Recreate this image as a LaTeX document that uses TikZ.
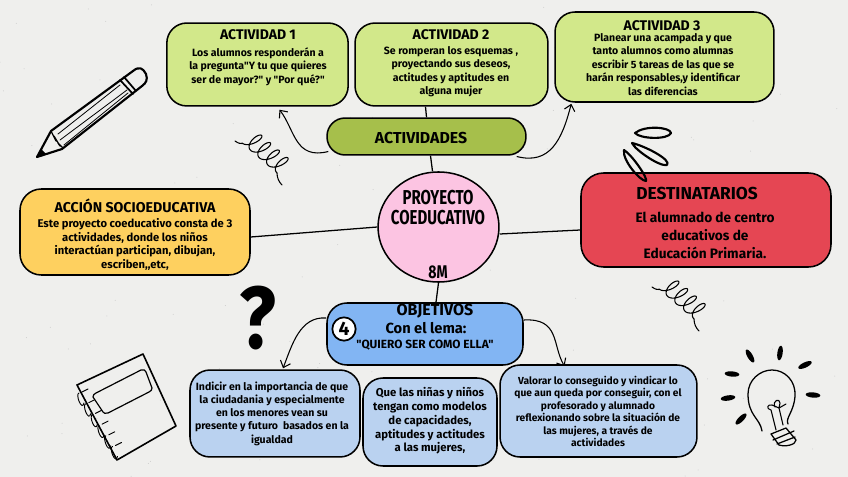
\documentclass[tikz,border=0pt]{standalone}
\usepackage{fontspec}
\usepackage{graphicx}
\setmainfont[Ligatures=TeXOff]{Fira Sans}
\usetikzlibrary{arrows.meta,shapes.geometric,calc}
\pgfdeclarelayer{under}
\pgfsetlayers{under,main}
\definecolor{paper}{HTML}{EFEFED}
\definecolor{lime}{HTML}{D2E88A}
\definecolor{olive}{HTML}{A6BF4B}
\definecolor{pinkc}{HTML}{FCC4E2}
\definecolor{redc}{HTML}{E54653}
\definecolor{amber}{HTML}{FED05F}
\definecolor{bluea}{HTML}{82B5F3}
\definecolor{blueb}{HTML}{BAD2F0}
\tikzset{
 x=0.75pt,y=-0.75pt,
 boxbase/.style={draw=black,line width=1.15pt,rounded corners=15pt,inner sep=0pt},
 limebox/.style={boxbase,fill=lime},
 bluebox/.style={boxbase,fill=blueb},
 body/.style={align=center,inner sep=0pt,font=\fontsize{7.9}{10.1}\selectfont\bfseries},
 ttl/.style={inner sep=0pt,font=\fontsize{10.5}{11}\selectfont\bfseries},
 link/.style={line width=0.95pt,draw=black},
 curve/.style={line width=0.8pt,draw=black,-{Straight Barb[length=4.5pt,width=8pt,line width=0.8pt]}},
 ink/.style={line width=0.95pt,draw=black,line join=round,line cap=round},
 inkb/.style={line width=1.6pt,draw=black,line join=round,line cap=round},
 coil/.style={line width=0.8pt,draw=black,line cap=round},
}
\begin{document}
\begin{tikzpicture}
\useasboundingbox (0,0) rectangle (848,477);
\begin{pgfonlayer}{under}
\fill[paper] (0,0) rectangle (848,477);
\pgfmathsetseed{7}
\foreach \i in {1,...,120}{
  \pgfmathsetmacro{\px}{rnd*848}\pgfmathsetmacro{\py}{rnd*477}
  \fill[black!20] (\px,\py) circle[radius=0.5];
}
\end{pgfonlayer}
% boxes
\node[limebox,minimum width=136pt,minimum height=62.2pt] (a1) at (257.5,64.5) {};
\node[limebox,minimum width=144.7pt,minimum height=62.2pt] (a2) at (451.5,64.5) {};
\node[limebox,minimum width=164.2pt,minimum height=67.5pt] (a3) at (664.5,57) {};
\node[boxbase,fill=olive,rounded corners=13.5pt,minimum width=149.2pt,minimum height=27.7pt] (act) at (426.5,136.5) {};
\node[draw=black,line width=1.15pt,ellipse,fill=pinkc,minimum width=90.7pt,minimum height=82.5pt,inner sep=0pt] (circ) at (438.5,227) {};
\node[boxbase,fill=redc,rounded corners=17pt,minimum width=187.5pt,minimum height=70.5pt] (dest) at (706,220) {};
\node[boxbase,fill=amber,rounded corners=16pt,minimum width=172.5pt,minimum height=64.5pt] (acc) at (135,232) {};
\node[boxbase,fill=bluea,rounded corners=15pt,minimum width=147pt,minimum height=46.5pt] (obj) at (425,334) {};
\node[bluebox,minimum width=127.5pt,minimum height=65.2pt] (b1) at (275,413.5) {};
\node[bluebox,minimum width=100.5pt,minimum height=66pt] (b2) at (430,422) {};
\node[bluebox,minimum width=147.7pt,minimum height=69pt] (b3) at (598.5,411) {};
\begin{pgfonlayer}{under}
\draw[link] ($(acc.east)+(0,5)$) -- (circ.west);
\draw[link] ($(circ.east)+(0,7)$) -- ($(dest.west)+(0,10)$);
\draw[link] ($(act.south)+(4,0)$) -- ($(circ.north)+(-6,0)$);
\draw[link] ($(a2.south)+(-26,0)$) -- (act.north);
\draw[link] (circ.south) -- ($(obj.north)+(11,0)$);
\draw[curve] ($(act.west)+(2,15)$) .. controls (295,160) and (295,130) .. ($(a1.south)+(22,3)$);
\draw[curve] ($(act.east)+(-10,20)$) .. controls (550,165) and (562,140) .. ($(a3.south west)+(17,1)$);
\draw[curve] ($(obj.west)+(0,-16)$) .. controls (300,316) and (292,345) .. ($(b1.north)+(8,-1)$);
\draw[curve] ($(obj.east)+(0,-14)$) .. controls (560,318) and (552,345) .. ($(b3.north)+(-34,2)$);
\end{pgfonlayer}
% titles
\node[ttl] (t1) at (258,35) {ACTIVIDAD 1};
\node[ttl] (t2) at (451,35) {ACTIVIDAD 2};
\node[ttl] (t3) at (662,26) {ACTIVIDAD 3};
\node[ttl,font=\fontsize{11.9}{12}\selectfont\bfseries] (tact) at (421,138.5) {ACTIVIDADES};
\node[ttl,font=\fontsize{11.6}{10.4}\selectfont\bfseries] (tc) at (438,210) {\scalebox{0.97}[1.3]{\begin{tabular}{@{}c@{}}PROYECTO\\COEDUCATIVO\end{tabular}}};
\node[ttl,font=\fontsize{10.6}{11}\selectfont\bfseries] (t8) at (438,272.5) {\scalebox{1}[1.3]{8M}};
\node[ttl,font=\fontsize{13}{14}\selectfont\bfseries] (td) at (697,193) {DESTINATARIOS};
\node[ttl,font=\fontsize{10.65}{11}\selectfont\bfseries] (ta) at (135,206) {ACCIÓN SOCIOEDUCATIVA};
\node[ttl,font=\fontsize{12}{13}\selectfont\bfseries] (to) at (435,311) {OBJETIVOS};
\node[ttl,font=\fontsize{11}{12}\selectfont\bfseries] (tl) at (426,328) {Con el lema:};
\node[body,font=\fontsize{8.9}{10}\selectfont\bfseries] (tq) at (425,345) {"QUIERO SER COMO ELLA"};
% bodies
\node[body] (x1) at (258,66.5) {Los alumnos responderán a\\la pregunta"Y tu que quieres\\ser de mayor?" y "Por qué?"};
\node[body] (x2) at (451,71.5) {Se romperan los esquemas ,\\proyectando sus deseos,\\actitudes y aptitudes en\\alguna mujer};
\node[body] (x3) at (663,64.5) {Planear una acampada y que\\tanto alumnos como alumnas\\escribir 5 tareas de las que se\\harán responsables,y identificar\\las diferencias};
\node[body,font=\fontsize{10.25}{13.5}\selectfont\bfseries] (x4) at (705,235) {El alumnado de centro\\educativos de\\Educación Primaria.};
\node[body,font=\fontsize{8.4}{10.3}\selectfont\bfseries] (x5) at (135,244.5) {Este proyecto coeducativo consta de 3\\actividades, donde los niños\\interactúan participan, dibujan,\\escriben,,etc,};
\node[body,font=\fontsize{7.9}{9.9}\selectfont\bfseries] (x6) at (272,413.5) {Indicir en la importancia de que\\la ciudadania y especialmente\\en los menores vean su\\presente y futuro\ \ basados en la\\igualdad};
\node[body,font=\fontsize{8.5}{10.3}\selectfont\bfseries] (x7) at (430,421) {Que las niñas y niños\\tengan como modelos\\de capacidades,\\aptitudes y actitudes\\a las mujeres,};
\node[body,font=\fontsize{7.66}{9.4}\selectfont\bfseries] (x8) at (598,411.5) {Valorar lo conseguido y vindicar lo\\que aun queda por conseguir, con el\\profesorado y alumnado\\reflexionando sobre la situación de\\las mujeres, a través de\\actividades};
% number badge
\node[circle,draw=black,fill=white,line width=1.3pt,minimum size=17.5pt,inner sep=0pt,font=\fontsize{14.5}{15}\selectfont\bfseries] (n4) at (344,329) {4};
% coils
\foreach \ox/\oy in {0/0,417/146}{
\begin{scope}[shift={(\ox,\oy)}]
\draw[coil,smooth] plot[domain=180:1620,samples=140,variable=\t]
 ({267.1+0.76*(0.032*(\t-900)-5*sin(\t))+0.8*9.5*cos(\t)},
  {152.3+0.65*(0.032*(\t-900)-5*sin(\t))-0.6*9.5*cos(\t)});
\draw[coil] (235,141) .. controls (238,143) and (240,144) .. (242,143.5);
\draw[coil] (277,173) .. controls (277,178) and (279,182) .. (282,185);
\end{scope}
}
% pencil
\draw[inkb,fill=paper] (37,157) -- (51,131) -- (133,71) .. controls (139,66) and (143,68) .. (146,74) .. controls (148,80) and (146,83) .. (142,86) -- (62,149) -- cycle;
\fill (37,157) -- (41,149) -- (46,154) -- cycle;
\draw[ink] (51,131) -- (56,141) -- (54,136) -- (60,146) -- (58,143) -- (63,148);
\draw[inkb,line width=1.3pt] (120,80) -- (133,94) (124,77) -- (136,91);
\draw[ink,line width=0.6pt] (58,134) -- (120,85) (60,140) -- (127,90) (64,145) -- (128,93);
% notebook
\draw[inkb,line width=1.2pt] (77,385) -- (143,354) -- (176,426) -- (117,460) -- cycle;
\draw[ink,line width=0.9pt] (96,393) -- (141,370) .. controls (144,369) and (145,370) .. (146,372) -- (152,388) .. controls (152,390) and (151,391) .. (149,392) -- (108,413) .. controls (105,414) and (104,413) .. (103,412) -- (93,397) .. controls (93,395) and (94,394) .. (96,393) -- cycle;
\foreach \s in {0,1,2,3,4,5}{
 \draw[ink,line width=0.7pt] ($(79,393)+(\s*6.7,\s*10.7)$) .. controls +(-4,1) and +(-2,9) .. +(5,10) +(3,-1) -- +(9,-4);
}
% question mark
\node[inner sep=0pt,font=\fontsize{66}{66}\selectfont\bfseries] (q) at (258,318) {\scalebox{0.87}[1.0]{?}};
% bulb
\draw[ink] (762,431) .. controls (760,418) and (748,416) .. (748,394) .. controls (748,380) and (760,370) .. (772,370) .. controls (785,370) and (796,381) .. (795,396) .. controls (794,412) and (785,418) .. (788,424);
\draw[ink] (771,434) -- (786,428) -- (796,440) .. controls (796,445) and (785,447) .. (779,445) -- cycle (773,440) -- (794,431) (777,444) -- (795,437);
\draw[ink,line width=0.8pt] (776,430) -- (771,410) .. controls (766,409) and (767,404) .. (772,405) -- (779,408) -- (786,404) (783,425) -- (779,408) (775,407) .. controls (772,400) and (780,398) .. (780,403) -- (779,408);
\foreach \cx/\cy/\a in {750/356/-60,780/353/82,805/365/25,813/395/-5,732/374/-5,728/398/8,741/419/45}{
 \fill[rotate around={\a:(\cx,\cy)}] (\cx,\cy) ellipse[x radius=5.5pt,y radius=2pt];
}
% petals
\draw[inkb] (635,133) .. controls (645,125) and (670,127) .. (671,133) .. controls (668,140) and (640,139) .. (635,133) -- cycle;
\draw[inkb] (632,143) .. controls (645,146) and (672,160) .. (667,165) .. controls (660,167) and (635,150) .. (632,143) -- cycle;
\draw[inkb] (624,150) .. controls (632,155) and (648,178) .. (646,181) .. controls (640,181) and (622,160) .. (624,150) -- cycle;
\end{tikzpicture}
\end{document}
